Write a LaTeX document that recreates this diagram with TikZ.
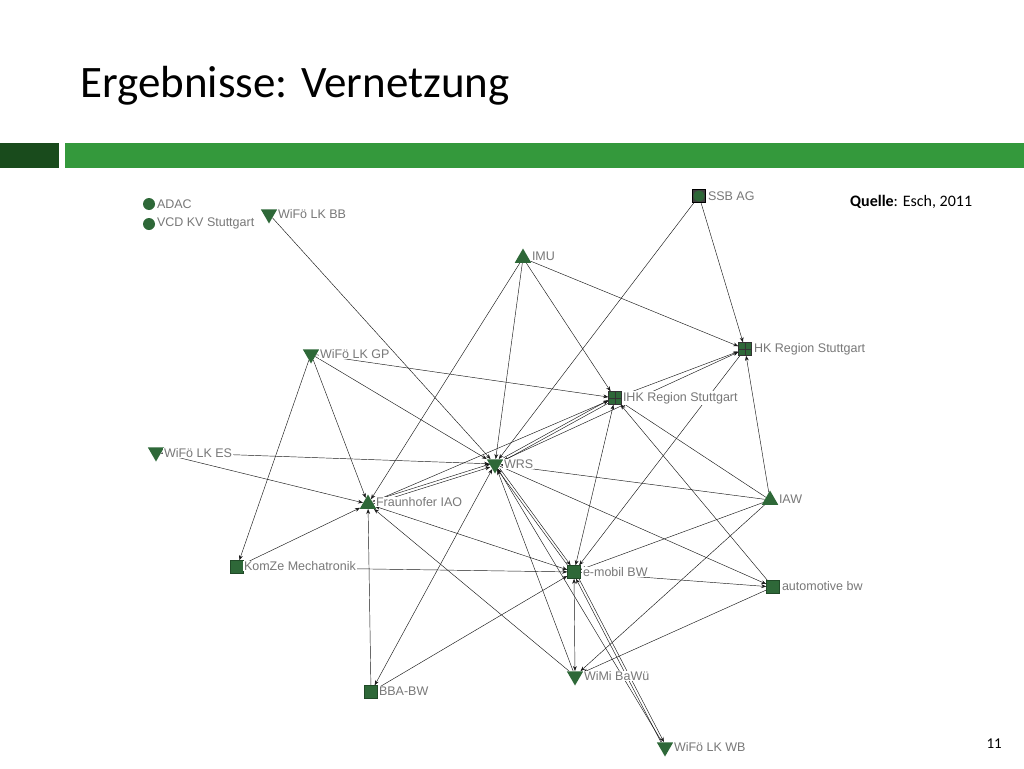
\documentclass[tikz,border=0pt]{standalone}
\usepackage{fontspec}
\setmainfont{Carlito}
\newfontfamily\labfont{Liberation Sans}
\usetikzlibrary{shapes.geometric,arrows.meta,backgrounds}
\definecolor{darkbar}{RGB}{25,75,28}
\definecolor{lightbar}{RGB}{52,153,60}
\definecolor{ngreen}{RGB}{46,104,56}
\definecolor{labgray}{RGB}{120,120,120}
\begin{document}
\begin{tikzpicture}[x=1pt,y=-1pt,
  utri/.style={regular polygon, regular polygon sides=3, minimum size=19pt, inner sep=0pt, fill=ngreen},
  dtri/.style={utri, shape border rotate=180},
  sq/.style={rectangle, minimum size=13pt, inner sep=0pt, fill=ngreen, draw=ngreen!70!black, line width=0.4pt},
  circ/.style={circle, minimum size=12pt, inner sep=0pt, fill=ngreen},
  crosssq/.style={sq, draw=black!80, path picture={\draw[black!80,line width=0.6pt] (path picture bounding box.north) -- (path picture bounding box.south) (path picture bounding box.west) -- (path picture bounding box.east);}},
  ringsq/.style={rectangle, minimum size=13pt, inner sep=0pt, fill=black!75, draw=black, line width=0.6pt, path picture={\fill[ngreen] (path picture bounding box.center) circle[radius=5.6pt];}},
  lab/.style={font=\labfont\fontsize{12.5}{14}\selectfont, text=labgray, fill=white, inner sep=0.8pt, anchor=west},
  lnk/.style={draw=black!90, line width=0.45pt, arrows={-Stealth[length=5pt,width=3.8pt]}},
  lnkb/.style={lnk, arrows={Stealth[length=5pt,width=3.8pt]-Stealth[length=5pt,width=3.8pt]}}
]
\useasboundingbox (0,0) rectangle (1024,768);
% header
\node[anchor=base west, inner sep=0pt, font=\fontsize{45}{50}\selectfont] (title) at (80,97) {Ergebnisse: Vernetzung};
\node[anchor=base west, inner sep=0pt, font=\fontsize{16}{18}\selectfont] (src) at (850,206) {\textbf{Quelle}: Esch, 2011};
\node[anchor=base east, inner sep=0pt, font=\fontsize{15}{17}\selectfont] (pg) at (1002,748) {11};

% nodes
\node[circ] (adac) at (149,204) {};
\node[circ] (vcd) at (149,224) {};
\node[dtri] (bb) at (269,214) {};
\node[utri] (imu) at (523,258) {};
\node[ringsq] (ssb) at (699,196) {};
\node[crosssq] (hk) at (745,349) {};
\node[crosssq] (ihk) at (615,398) {};
\node[dtri] (gp) at (311,354) {};
\node[dtri] (es) at (156,452) {};
\node[dtri] (wrs) at (495,464) {};
\node[utri] (iao) at (368,504) {};
\node[utri] (iaw) at (770,500) {};
\node[sq] (komze) at (237,567) {};
\node[sq] (emob) at (574,572) {};
\node[sq] (auto) at (773,587) {};
\node[sq] (bba) at (371,692) {};
\node[dtri] (wimi) at (575,676) {};
\node[dtri] (wb) at (665,747) {};

% labels
\node[lab] (ladac) at (156,204) {ADAC};
\node[lab] (lvcd) at (156,223) {VCD KV Stuttgart};
\node[lab] (lbb) at (277,214) {WiFö LK BB};
\node[lab] (limu) at (531,256) {IMU};
\node[lab] (lssb) at (707,196) {SSB AG};
\node[lab] (lhk) at (753,349) {HK Region Stuttgart};
\node[lab] (lihk) at (622,398) {IHK Region Stuttgart};
\node[lab] (lgp) at (319,354) {WiFö LK GP};
\node[lab] (les) at (163,453) {WiFö LK ES};
\node[lab] (lwrs) at (503,464) {WRS};
\node[lab] (liao) at (375,502) {Fraunhofer IAO};
\node[lab] (liaw) at (778,499) {IAW};
\node[lab] (lkomze) at (243,566) {KomZe Mechatronik};
\node[lab] (lemob) at (582,572) {e-mobil BW};
\node[lab] (lauto) at (781,586) {automotive bw};
\node[lab] (lbba) at (378,691) {BBA-BW};
\node[lab] (lwimi) at (583,676) {WiMi BaWü};
\node[lab] (lwb) at (673,747) {WiFö LK WB};

\begin{pgfonlayer}{background}
\fill[white] (0,0) rectangle (1024,768);
\fill[darkbar] (0,143) rectangle (59,168);
\fill[lightbar] (65,143) rectangle (1024,168);
% connectors
\draw[lnk] (bb) -- (wrs);
\draw[lnk] (imu) -- (wrs);
\draw[lnk] (imu) -- (iao);
\draw[lnk] (imu) -- (ihk);
\draw[lnk] (imu) -- (hk);
\draw[lnk] (ssb) -- (wrs);
\draw[lnk] (ssb) -- (hk);
\draw[lnk] (gp) -- (ihk);
\draw[lnk] (gp) -- (wrs);
\draw[lnk] (gp) -- (iao);
\draw[lnk] (gp) -- (komze);
\draw[lnk] (es) -- (wrs);
\draw[lnk] (es) -- (iao);
\draw[lnk, transform canvas={yshift=1.5pt}] (iao) -- (wrs);
\draw[lnk, transform canvas={yshift=-1.5pt}] (iao) -- (wrs);
\draw[lnk] (iao) -- (ihk);
\draw[lnkb] (iao) -- (emob);
\draw[lnk] (wimi) -- (iao);
\draw[lnk] (komze) -- (iao);
\draw[lnk] (komze) -- (emob);
\draw[lnk] (bba) -- (iao);
\draw[lnkb] (bba) -- (wrs);
\draw[lnk] (bba) -- (emob);
\draw[lnk, transform canvas={yshift=1.5pt}] (wrs) -- (ihk);
\draw[lnk, transform canvas={yshift=-1.5pt}] (ihk) -- (wrs);
\draw[lnk] (wrs) -- (hk);
\draw[lnk] (iaw) -- (wrs);
\draw[lnk] (wrs) -- (auto);
\draw[lnk, transform canvas={xshift=1.5pt}] (wrs) -- (emob);
\draw[lnk, transform canvas={xshift=-1.5pt}] (emob) -- (wrs);
\draw[lnk] (wimi) -- (wrs);
\draw[lnk] (wb) -- (wrs);
\draw[lnkb] (ihk) -- (emob);
\draw[lnk] (hk) -- (emob);
\draw[lnk] (ihk) -- (hk);
\draw[lnk] (iaw) -- (hk);
\draw[lnk] (iaw) -- (ihk);
\draw[lnk] (auto) -- (ihk);
\draw[lnk] (iaw) -- (emob);
\draw[lnk] (emob) -- (auto);
\draw[lnkb] (emob) -- (wimi);
\draw[lnk, transform canvas={xshift=1.5pt}] (emob) -- (wb);
\draw[lnk, transform canvas={xshift=-1.5pt}] (wb) -- (emob);
\draw[lnk] (iaw) -- (wimi);
\draw[lnk] (auto) -- (wimi);
\end{pgfonlayer}
\end{tikzpicture}
\end{document}
